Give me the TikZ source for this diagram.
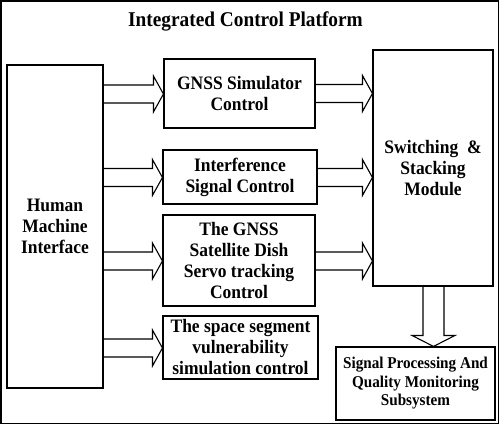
\documentclass[tikz,border=0pt]{standalone}
\usepackage{fontspec}
\setmainfont[FakeStretch=0.92]{Liberation Serif}
\usetikzlibrary{calc}
\newcommand\harrowline[3]{%
  \draw[barrow] ($(#1.east|-0,#3)+(0,-9)$) -- ($(#2.west|-0,#3)+(-10,-9)$) -- ($(#2.west|-0,#3)+(-10,-18)$) -- (#2.west|-0,#3) -- ($(#2.west|-0,#3)+(-10,18)$) -- ($(#2.west|-0,#3)+(-10,9)$) -- ($(#1.east|-0,#3)+(0,9)$);}
\begin{document}
\begin{tikzpicture}[x=1pt,y=-1pt,
  box/.style={draw, line width=1.1pt, rectangle, inner sep=0pt, align=center,
    font=\fontsize{19}{21}\selectfont\bfseries},
  barrow/.style={draw, line width=1.1pt, line join=miter}]
\useasboundingbox (0,0) rectangle (500,425);
\draw[line width=1.8pt] (1,1) rectangle (498.5,423.5);
\node[anchor=base, font=\fontsize{21}{24}\selectfont\bfseries] (title) at (245.5,27) {Integrated Control Platform};
\node[box, minimum width=96pt, minimum height=323pt] (hmi) at (55,226.5) {Human\\Machine\\Interface};
\node[box, minimum width=151pt, minimum height=69pt] (gnss) at (239.5,93.5) {GNSS Simulator\\Control};
\node[box, minimum width=154pt, minimum height=54pt] (intf) at (240,177) {Interference\\Signal Control};
\node[box, minimum width=152pt, minimum height=91pt] (dish) at (239,260.5) {The GNSS\\Satellite Dish\\Servo tracking\\Control};
\node[box, minimum width=155pt, minimum height=63pt] (space) at (240.5,347.5) {The space segment\\vulnerability\\simulation control};
\node[box, minimum width=120pt, minimum height=236pt] (switch) at (433,168) {Switching \ \&\\Stacking\\Module};
\node[box, minimum width=159pt, minimum height=73pt, font=\fontsize{16.5}{18.5}\selectfont\bfseries] (sig) at (415.5,383.5) {Signal Processing And\\Quality Monitoring\\Subsystem};
\harrowline{hmi}{gnss}{94}
\harrowline{hmi}{intf}{177.5}
\harrowline{hmi}{dish}{261}
\harrowline{hmi}{space}{348}
\harrowline{gnss}{switch}{93.5}
\harrowline{intf}{switch}{177.5}
\harrowline{dish}{switch}{261}
\draw[barrow] (switch.south -| 423,0) -- ($(sig.north -| 423,0)+(0,-11)$) -- ($(sig.north -| 412,0)+(0,-11)$) -- (sig.north -| 433.5,0) -- ($(sig.north -| 455,0)+(0,-11)$) -- ($(sig.north -| 444,0)+(0,-11)$) -- (switch.south -| 444,0);
\end{tikzpicture}
\end{document}
